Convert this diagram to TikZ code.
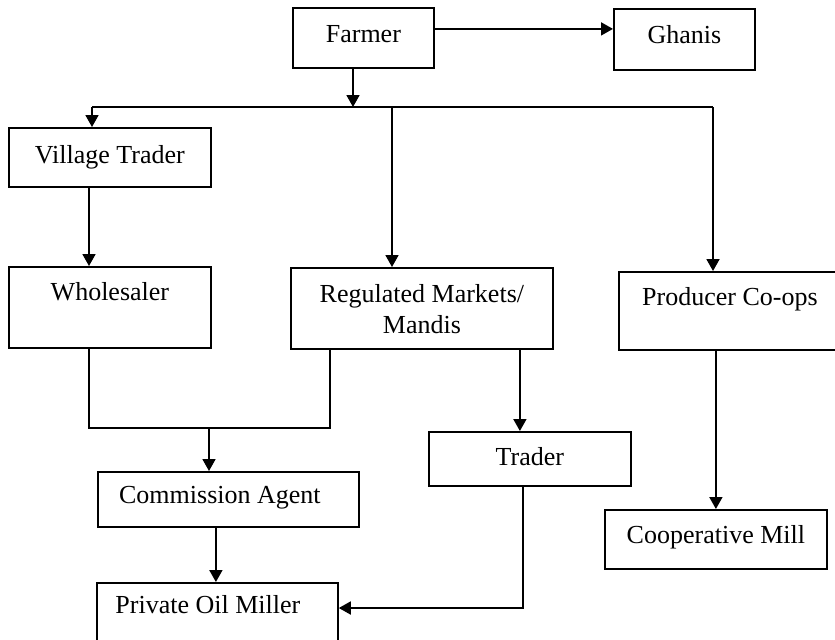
\documentclass[tikz,border=0pt]{standalone}
\usepackage{fontspec}
\setmainfont{Liberation Serif}
\usepackage{tikz}
\usetikzlibrary{arrows.meta}
\tikzset{bx/.style={draw,line width=0.9pt,inner sep=0pt,anchor=north west,align=center,font=\fontsize{13}{15.5}\selectfont},
  ar/.style={line width=0.9pt,-{Triangle[length=6pt,width=6.5pt]}},
  ln/.style={line width=0.9pt}}

\begin{document}
\begin{tikzpicture}[x=0.5pt,y=-0.5pt]
\useasboundingbox (0,0) rectangle (835,639);
% boxes
\node[bx,minimum width=70.5pt,text height=17.5pt,text depth=12.5pt] (farmer) at (292,7) {Farmer};
\node[bx,minimum width=70.5pt,text height=17.5pt,text depth=13pt] (ghanis) at (613,8) {Ghanis};
\node[bx,minimum width=101pt,text height=18pt,text depth=11.5pt] (vtrader) at (8,127) {Village Trader};
\node[bx,minimum width=101pt,text height=17pt,text depth=23.5pt] (whole) at (8,266) {Wholesaler};
\node[bx,minimum width=131pt,text height=33pt,text depth=7.5pt] (reg) at (290,267) {Regulated Markets/\\Mandis};
\node[bx,minimum width=111pt,text height=17pt,text depth=22pt] (prod) at (618,271) {Producer Co-ops};
\node[bx,minimum width=101pt,text height=17pt,text depth=10pt] (trader) at (428,431) {Trader};
\node[bx,minimum width=130.5pt,text height=16pt,text depth=11.5pt] (comm) at (97,471) {Commission Agent\hspace*{8.5pt}};
\node[bx,minimum width=111pt,text height=17pt,text depth=12.5pt] (coop) at (604,509) {Cooperative Mill};
\node[bx,minimum width=120.5pt,text height=15.5pt,text depth=17pt] (miller) at (96,582) {Private Oil Miller\hspace*{9.5pt}};
% routing points
\coordinate (split) at (353,107);
\coordinate (busL) at (92,107);
\coordinate (busR) at (713,107);
\coordinate (busM) at (392,107);
\coordinate (joinL) at (89,428);
\coordinate (joinR) at (330,428);
\coordinate (join) at (209,428);
\coordinate (tm) at (523,608);
% connectors
\draw[ar] ([yshift=4.5pt]farmer.east) -- ([yshift=4.5pt]farmer.east -| ghanis.west);
\draw[ar] (split |- farmer.south) -- (split);
\draw[ln] (busL) -- (busR);
\draw[ar] (busL) -- (busL |- vtrader.north);
\draw[ar] (busM) -- (busM |- reg.north);
\draw[ar] (busR) -- (busR |- prod.north);
\draw[ar] (joinL |- vtrader.south) -- (joinL |- whole.north);
\draw[ln] (joinL |- whole.south) -- (joinL) -- (joinR) -- (joinR |- reg.south);
\draw[ar] (join) -- (join |- comm.north);
\draw[ar] ([xshift=-5pt]trader.north |- reg.south) -- ([xshift=-5pt]trader.north);
\draw[ar] ([xshift=-0.75pt]miller.north |- comm.south) -- ([xshift=-0.75pt]miller.north);
\draw[ar] (tm |- trader.south) -- (tm) -- (tm -| miller.east);
\draw[ar] (coop.north |- prod.south) -- (coop.north);
\end{tikzpicture}
\end{document}
